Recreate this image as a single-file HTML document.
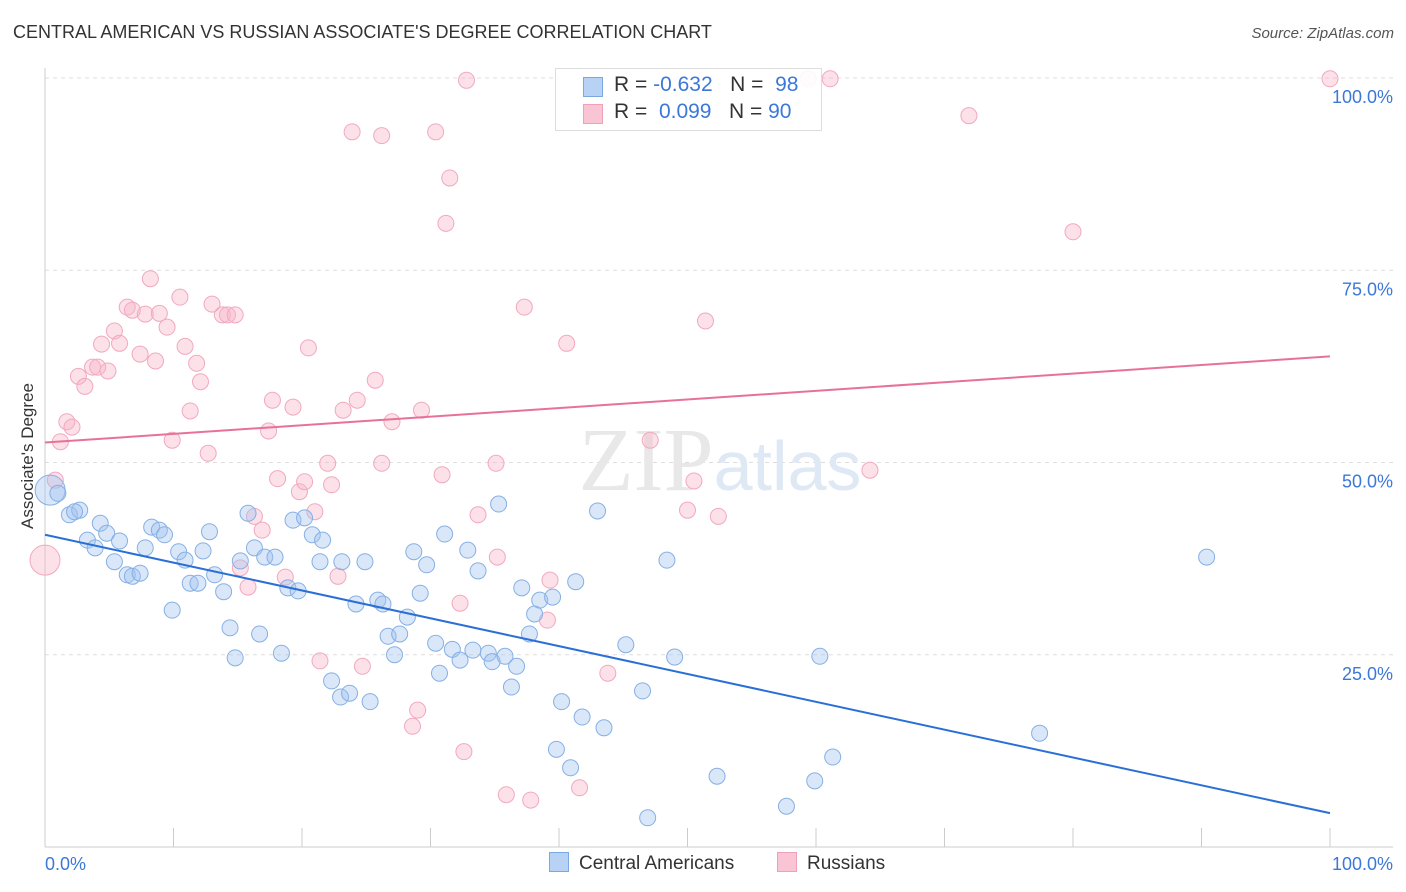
<!DOCTYPE html>
<html><head><meta charset="utf-8">
<style>
body{margin:0;background:#fff;font-family:"Liberation Sans",sans-serif;}
#wrap{position:relative;width:1406px;height:892px;overflow:hidden;}
.t{position:absolute;white-space:nowrap;}
</style></head>
<body>
<div id="wrap">
<div class="t" style="left:13px;top:22px;font-size:18px;color:#333;">CENTRAL AMERICAN VS RUSSIAN ASSOCIATE'S DEGREE CORRELATION CHART</div>
<div class="t" style="right:12px;top:25px;font-size:15px;color:#555;font-style:italic;">Source: ZipAtlas.com</div>
<div class="t" style="left:-45px;top:446px;font-size:17px;color:#333;transform:rotate(-90deg);">Associate's Degree</div>
<svg id="svg" width="1406" height="892" style="position:absolute;left:0;top:0;"></svg>
<div class="t" style="left:555px;top:68px;width:265px;height:61px;border:1px solid #ddd;background:rgba(255,255,255,0.9);font-size:21px;color:#333;">
 <div style="position:absolute;left:27px;top:8px;width:18px;height:18px;background:#b8d2f5;border:1px solid #7aa8e0;"></div>
 <div style="position:absolute;left:58px;top:4px;">R = <span style="color:#3b78d8">-0.632</span>&nbsp;&nbsp;&nbsp;N = &nbsp;<span style="color:#3b78d8">98</span></div>
 <div style="position:absolute;left:27px;top:35px;width:18px;height:18px;background:#f9c4d4;border:1px solid #f0a0bb;"></div>
 <div style="position:absolute;left:58px;top:31px;">R = &nbsp;<span style="color:#3b78d8">0.099</span>&nbsp;&nbsp;&nbsp;N = <span style="color:#3b78d8">90</span></div>
</div>
<div class="t" style="left:549px;top:852px;font-size:19px;color:#333;"><span style="display:inline-block;width:18px;height:18px;background:#b8d2f5;border:1px solid #7aa8e0;vertical-align:-3px;margin-right:10px;"></span>Central Americans</div>
<div class="t" style="left:777px;top:852px;font-size:19px;color:#333;"><span style="display:inline-block;width:18px;height:18px;background:#f9c4d4;border:1px solid #f0a0bb;vertical-align:-3px;margin-right:10px;"></span>Russians</div>
</div>
<script>
const blueX=[0.4,1.0,1.9,2.7,2.3,3.3,3.9,4.3,4.8,5.4,5.8,6.4,6.8,7.4,7.8,8.3,8.9,9.3,9.9,10.4,10.9,11.3,11.9,12.3,12.8,13.2,13.9,14.4,14.8,15.2,15.8,16.3,16.7,17.1,17.9,18.4,18.9,19.3,19.7,20.2,20.8,21.4,21.6,22.3,23.0,23.1,23.7,24.2,24.9,25.3,25.9,26.3,26.7,27.2,27.6,28.2,28.7,29.2,29.7,30.4,30.7,31.1,31.7,32.3,32.9,33.3,33.7,34.5,34.8,35.3,35.8,36.3,36.7,37.1,37.7,38.1,38.5,39.5,39.8,40.2,40.9,41.3,41.8,43.0,43.5,45.2,46.5,46.9,48.4,49.0,52.3,57.7,59.9,60.3,61.3,77.4,90.4];
const blueY=[46.4,46.0,43.2,43.8,43.6,39.9,38.9,42.1,40.8,37.1,39.8,35.4,35.2,35.6,38.9,41.6,41.2,40.6,30.8,38.4,37.3,34.3,34.3,38.5,41.0,35.4,33.2,28.5,24.6,37.2,43.4,38.9,27.7,37.7,37.7,25.2,33.7,42.5,33.3,42.8,40.6,37.1,39.9,21.6,19.5,37.1,20.0,31.6,37.1,18.9,32.1,31.6,27.4,25.0,27.7,29.9,38.4,33.0,36.7,26.5,22.6,40.7,25.7,24.3,38.6,25.6,35.9,25.2,24.1,44.6,24.8,20.8,23.5,33.7,27.7,30.3,32.1,32.5,12.7,18.9,10.3,34.5,16.9,43.7,15.5,26.3,20.3,3.8,37.3,24.7,9.2,5.3,8.6,24.8,11.7,14.8,37.7];
const pinkX=[0.0,0.8,1.2,1.7,2.1,2.6,3.1,3.7,4.1,4.4,4.9,5.4,5.8,6.4,6.8,7.4,7.8,8.2,8.6,8.9,9.5,9.9,10.5,10.9,11.3,11.8,12.1,12.7,13.0,13.8,14.2,14.8,15.2,15.8,16.3,16.9,17.4,17.7,18.1,18.7,19.3,19.8,20.2,20.5,21.0,21.4,22.0,22.3,22.8,23.2,23.9,24.3,24.7,25.7,26.2,26.2,27.0,28.6,29.0,29.3,30.4,30.9,31.5,31.2,32.3,32.6,32.8,33.7,35.1,35.2,35.9,37.3,37.8,39.1,39.3,40.6,41.6,43.8,47.1,50.0,50.5,51.4,52.4,59.4,61.1,64.2,71.9,80.0,100];
const pinkY=[37.3,47.7,52.7,55.3,54.6,61.2,59.9,62.4,62.4,65.4,61.9,67.1,65.5,70.2,69.8,64.1,69.3,73.9,63.2,69.4,67.6,52.9,71.5,65.1,56.7,62.9,60.5,51.2,70.6,69.2,69.2,69.2,36.3,33.8,43.0,41.2,54.1,58.1,47.9,35.1,57.2,46.2,47.5,64.9,43.6,24.2,49.9,47.1,35.2,56.8,93.0,58.1,23.5,60.7,92.5,49.9,55.3,15.7,17.8,56.8,93.0,48.4,87.0,81.1,31.7,12.4,99.7,43.2,49.9,37.7,6.8,70.2,6.1,29.5,34.7,65.5,7.7,22.6,52.9,43.8,47.6,68.4,43.0,99.9,99.9,49.0,95.1,80.0,99.9];
const blueTrend=[40.6,4.4];
const pinkTrend=[52.6,63.8];
const yTicks=[25,50,75,100];
const yTickLabels=["25.0%","50.0%","75.0%","100.0%"];
const xTicks=[0,10,20,30,40,50,60,70,80,90,100];

const NS="http://www.w3.org/2000/svg";
const svg=document.getElementById('svg');
const X=v=>45+v*12.85;
const Y=v=>847-v*7.69;
function mk(tag,attrs){const e=document.createElementNS(NS,tag);for(const k in attrs)e.setAttribute(k,attrs[k]);svg.appendChild(e);return e;}
yTicks.forEach((t,i)=>{
 const g=mk('line',{x1:45,x2:1393,y1:Y(t),y2:Y(t),stroke:'#ddd','stroke-dasharray':'4,4'});
 
 
 const tx=mk('text',{x:1393,y:Y(t)+25,'text-anchor':'end','font-size':18,fill:'#3b78d8','font-family':'Liberation Sans'});
 tx.textContent=yTickLabels[i];
 
 
});
const ax=mk('line',{x1:45,x2:1393,y1:847,y2:847,stroke:'#ccc'});


const ay=mk('line',{x1:45,x2:45,y1:68,y2:847,stroke:'#ccc'});


xTicks.forEach(t=>{
 const l=mk('line',{x1:X(t),x2:X(t),y1:828,y2:847,stroke:'#ccc'});
 
 
});
const xl0=mk('text',{x:45,y:870,'font-size':18,fill:'#3b78d8','font-family':'Liberation Sans'});xl0.textContent='0.0%';


const xl1=mk('text',{x:1393,y:870,'text-anchor':'end','font-size':18,fill:'#3b78d8','font-family':'Liberation Sans'});xl1.textContent='100.0%';


const wm=mk('text',{x:720,y:490,'text-anchor':'middle','font-size':90,fill:'#e8e8e8','font-family':'Liberation Serif'});
wm.innerHTML='ZIP<tspan fill="#dfe8f5" font-family="Liberation Sans" font-size="70">atlas</tspan>';


function dots(xs,ys,fill,stroke,name){
 xs.forEach((x,i)=>{
  const big=(i===0);
  const c=mk('circle',{cx:X(x),cy:Y(ys[i]),r:big?15:8,fill:fill,stroke:stroke,'stroke-width':1});
  
  
 });
}
dots(pinkX,pinkY,'rgba(248,180,200,0.4)','#f2a8c0','russian-point');
dots(blueX,blueY,'rgba(160,196,240,0.4)','#86b0e4','central-american-point');
const bl=mk('line',{x1:X(0),y1:Y(blueTrend[0]),x2:X(100),y2:Y(blueTrend[1]),stroke:'#2a6fd6','stroke-width':2});


const pl=mk('line',{x1:X(0),y1:Y(pinkTrend[0]),x2:X(100),y2:Y(pinkTrend[1]),stroke:'#e8719a','stroke-width':2});


</script>
</body></html>
